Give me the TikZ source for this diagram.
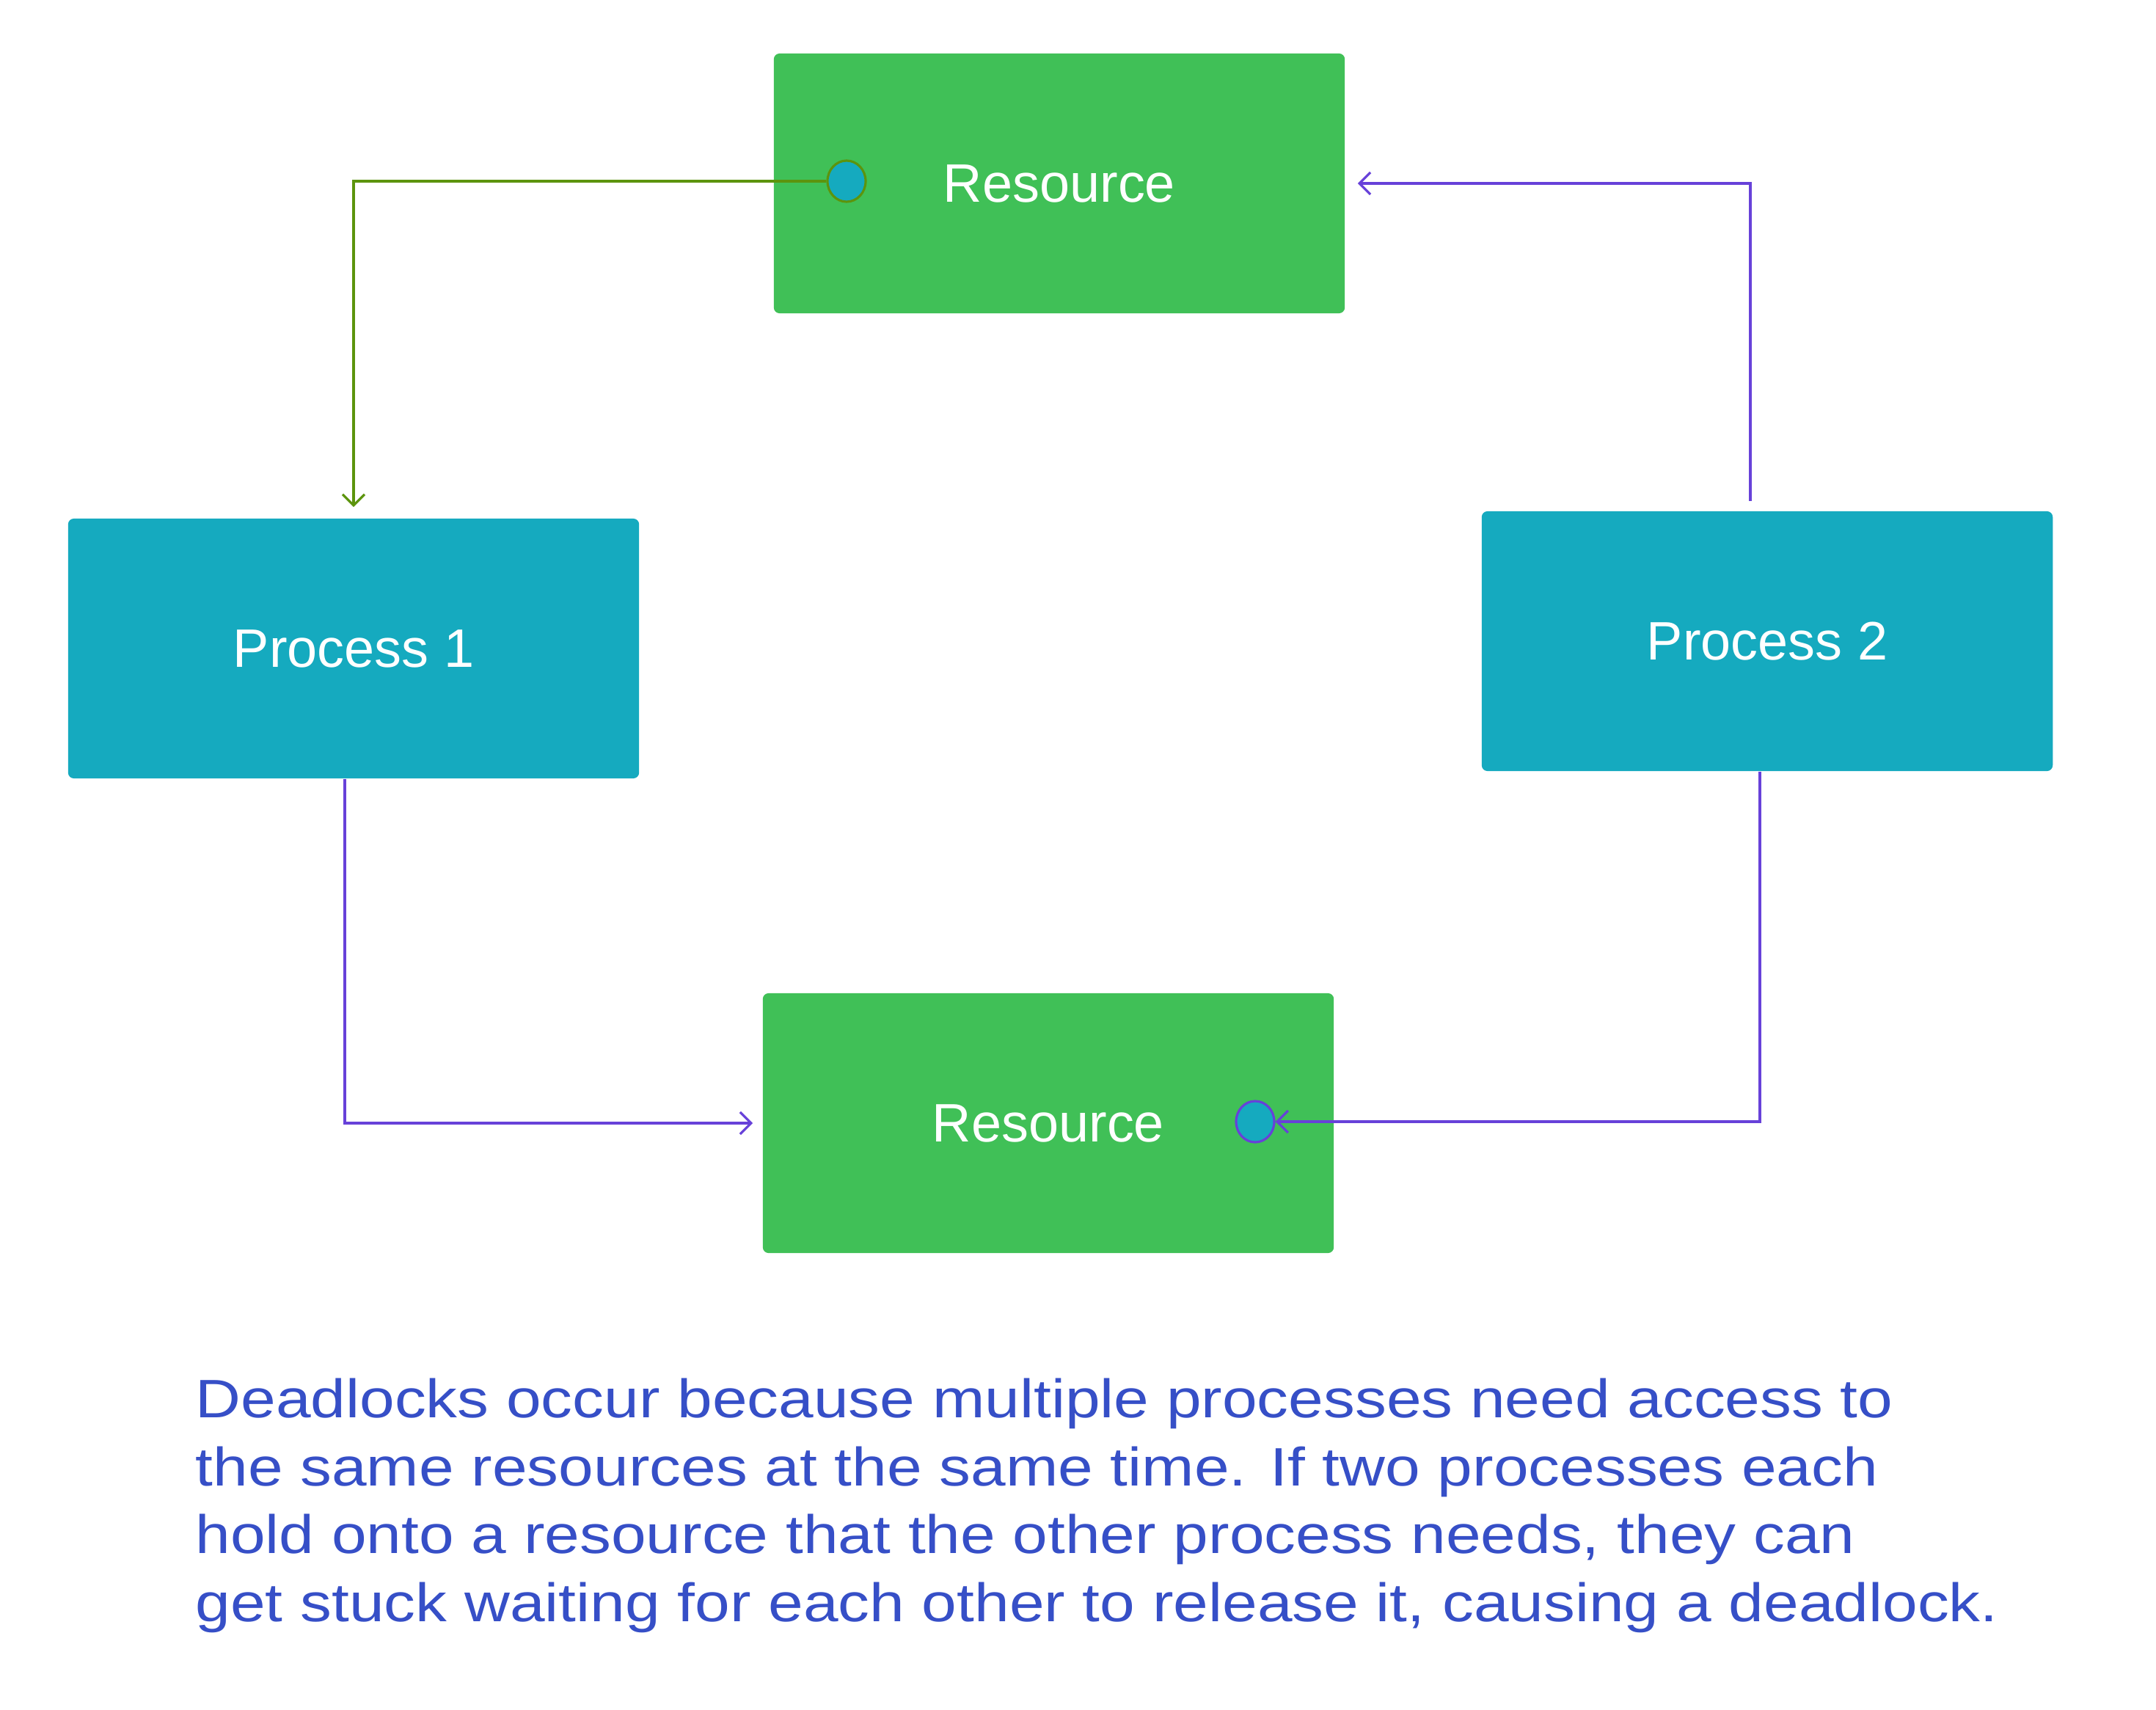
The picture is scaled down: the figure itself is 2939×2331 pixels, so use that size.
\documentclass[tikz,border=0pt]{standalone}
\usepackage{fontspec}
\setmainfont{Liberation Sans}
\newfontfamily\notefont[FakeStretch=1.16]{Liberation Sans}
\usetikzlibrary{arrows.meta,positioning,shapes.geometric}

\begin{document}
\begin{tikzpicture}[
    x=0.01cm, y=-0.01cm,
    every node/.style={font=\fontsize{21}{26.4}\selectfont},
    resbox/.style={fill=resgreen, rounded corners=0.08cm, minimum width=7.78cm, minimum height=3.54cm, text=white},
    procbox/.style={fill=proccyan, rounded corners=0.08cm, minimum width=7.78cm, minimum height=3.54cm, text=white},
    holddot/.style={ellipse, fill=proccyan, minimum width=0.52cm, minimum height=0.56cm, inner sep=0pt, line width=0.9pt},
    linkline/.style={line width=0.9pt, -{Straight Barb[length=1.5mm,width=3mm]}},
  ]
    \definecolor{resgreen}{HTML}{40C057}
    \definecolor{proccyan}{HTML}{15AABF}
    \definecolor{holdgreen}{HTML}{5C940D}
    \definecolor{waitviolet}{HTML}{6741D9}
    \definecolor{notetext}{HTML}{364FC7}

    \useasboundingbox (0,0) rectangle (2939,2331);

    % ============ boxes ============
    \node[resbox] (res1) at (1444,250) {Resource};
    \node[procbox] (proc1) at (482,884) {Process 1};
    \node[procbox] (proc2) at (2409,874) {Process 2};
    \node[resbox] (res2) at (1429,1531) {Resource};

    \node[holddot, draw=holdgreen] (dot1) at (1154,247) {};
    \node[holddot, draw=waitviolet] (dot2) at (1711,1529) {};

    % ============ links ============
    \draw[linkline, holdgreen] (dot1.west) -| ([yshift=0.15cm]proc1.north);
    \draw[linkline, waitviolet] ([xshift=-0.23cm,yshift=0.13cm]proc2.north) |- ([xshift=0.17cm]res1.east);
    \draw[linkline, waitviolet] ([xshift=-0.12cm]proc1.south) |- ([xshift=-0.13cm]res2.west);
    \draw[linkline, waitviolet] ([xshift=-0.1cm]proc2.south) |- (dot2.east);

    % ============ note ============
    \node[anchor=north west, inner sep=0pt, align=left, text=notetext, font=\notefont\fontsize{21}{26.4}\selectfont] (note) at (266,1878)
      {Deadlocks occur because multiple processes need access to\\
       the same resources at the same time. If two processes each\\
       hold onto a resource that the other process needs, they can\\
       get stuck waiting for each other to release it, causing a deadlock.};
  \end{tikzpicture}
\end{document}
